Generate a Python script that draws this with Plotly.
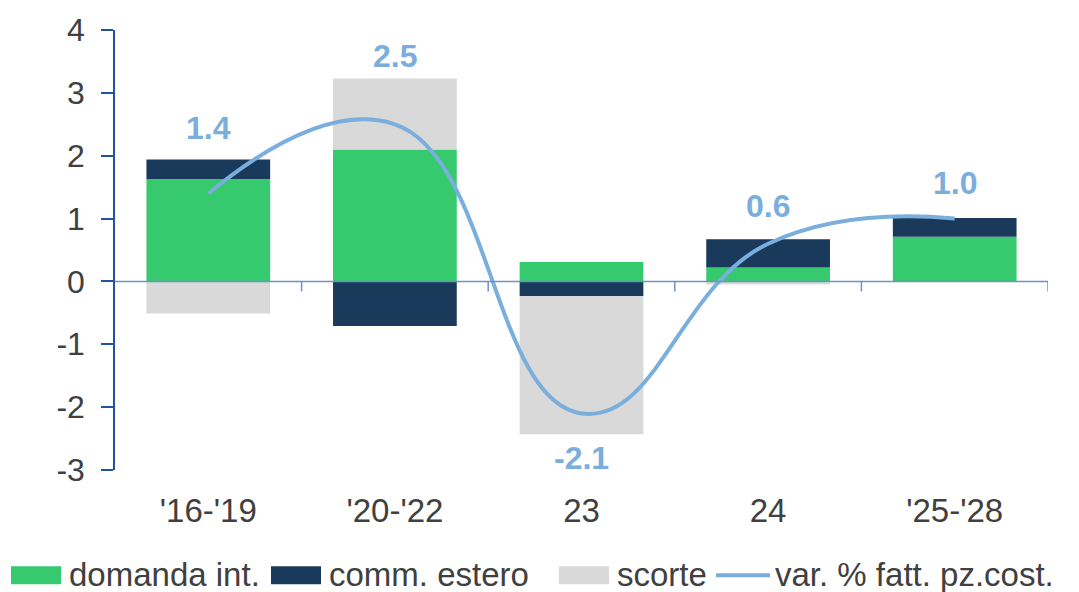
import plotly.graph_objects as go

# data
categories = ["'16-'19", "'20-'22", "23", "24", "'25-'28"]
domanda_int = [1.63, 2.10, 0.31, 0.22, 0.71]
comm_estero = [0.31, -0.71, -0.23, 0.45, 0.30]
scorte = [-0.51, 1.13, -2.20, -0.05, 0.0]
var_fatt = [1.4, 2.5, -2.1, 0.6, 1.0]
var_labels = ["1.4", "2.5", "-2.1", "0.6", "1.0"]
y_ticks = [-3, -2, -1, 0, 1, 2, 3, 4]
y_tick_text = ["-3", "-2", "-1", "0", "1", "2", "3", "4"]

series_names = ["domanda int.", "comm. estero", "scorte", "var. % fatt. pz.cost."]

GREEN = "#36C96E"
NAVY = "#1A3A5C"
GREY = "#D9D9D9"
LINE = "#7AAEDD"
AXIS = "#2451A4"
ZERO = "#7090C8"
TEXT = "#404040"
FONT = "Liberation Sans, Arial, sans-serif"

fig = go.Figure()

for name, vals, col in [(series_names[0], domanda_int, GREEN),
                        (series_names[1], comm_estero, NAVY),
                        (series_names[2], scorte, GREY)]:
    fig.add_trace(go.Bar(
        x=categories, y=vals, name=name,
        marker=dict(color=col, line=dict(width=0)),
        showlegend=False
    ))

fig.add_trace(go.Scatter(
    x=categories, y=var_fatt, name=series_names[3],
    mode="lines",
    line=dict(color=LINE, width=4, shape="spline", smoothing=1.3),
    showlegend=False
))

# value labels above / below the line points (pixel offsets)
label_shift = [65, 68, -45, 38, 36]
for i, (v, t, s) in enumerate(zip(var_fatt, var_labels, label_shift)):
    fig.add_annotation(
        x=i, y=v, text=t, yshift=s, showarrow=False,
        font=dict(family=FONT, size=32, color=LINE, weight="bold")
    )

# zero line acting as the category axis, with ticks between categories
shapes = [dict(type="line", xref="paper", yref="y", x0=0, x1=1, y0=0, y1=0,
               line=dict(color=ZERO, width=1.5), layer="above")]
for i in range(len(categories)):
    shapes.append(dict(type="line", xref="x", yref="y", x0=i + 0.5, x1=i + 0.5,
                       ysizemode="pixel", yanchor=0, y0=0, y1=-10,
                       line=dict(color=ZERO, width=1.5), layer="above"))

# custom legend (plot area: x 115..1048 px, y 27..470 px)
plot_l, plot_w = 115, 933
plot_b, plot_h = 470, 443

def px_x(p):
    return (p - plot_l) / plot_w

def px_y(p):
    return (plot_b - p) / plot_h

leg_y = 575
swatches = [(11, 61, GREEN, 67), (271, 321, NAVY, 327), (559, 609, GREY, 615)]
for (a, b, col, tx), name in zip(swatches, series_names[:3]):
    shapes.append(dict(type="rect", xref="paper", yref="paper",
                       x0=px_x(a), x1=px_x(b), y0=px_y(leg_y + 10), y1=px_y(leg_y - 8),
                       fillcolor=col, line=dict(width=0)))
    fig.add_annotation(x=px_x(tx), y=px_y(leg_y), xref="paper", yref="paper",
                       text=name, showarrow=False, xanchor="left", yanchor="middle",
                       font=dict(family=FONT, size=33, color=TEXT))
shapes.append(dict(type="line", xref="paper", yref="paper",
                   x0=px_x(716), x1=px_x(770), y0=px_y(leg_y + 1), y1=px_y(leg_y + 1),
                   line=dict(color=LINE, width=4)))
fig.add_annotation(x=px_x(773), y=px_y(leg_y), xref="paper", yref="paper",
                   text=series_names[3], showarrow=False, xanchor="left", yanchor="middle",
                   font=dict(family=FONT, size=33, color=TEXT))

fig.update_layout(
    width=1079, height=592,
    margin=dict(l=115, r=31, t=27, b=122),
    barmode="relative",
    bargap=0.337,
    plot_bgcolor="white",
    paper_bgcolor="white",
    font=dict(family=FONT, color=TEXT),
    shapes=shapes,
    xaxis=dict(
        type="category",
        range=[-0.5, 4.5], showgrid=False, zeroline=False, showline=False,
        ticks="", tickfont=dict(size=33, color=TEXT), ticklabelstandoff=18
    ),
    yaxis=dict(
        range=[-3, 4], tickvals=y_ticks, ticktext=y_tick_text,
        showgrid=False, zeroline=False,
        showline=True, linecolor=AXIS, linewidth=1.5,
        ticks="outside", ticklen=12, tickcolor=AXIS, tickwidth=1.5,
        tickfont=dict(size=32, color=TEXT), ticklabelstandoff=10
    ),
)

fig.write_html("out.html", config={"displayModeBar": False},
               post_script="document.body.style.margin='0';")
